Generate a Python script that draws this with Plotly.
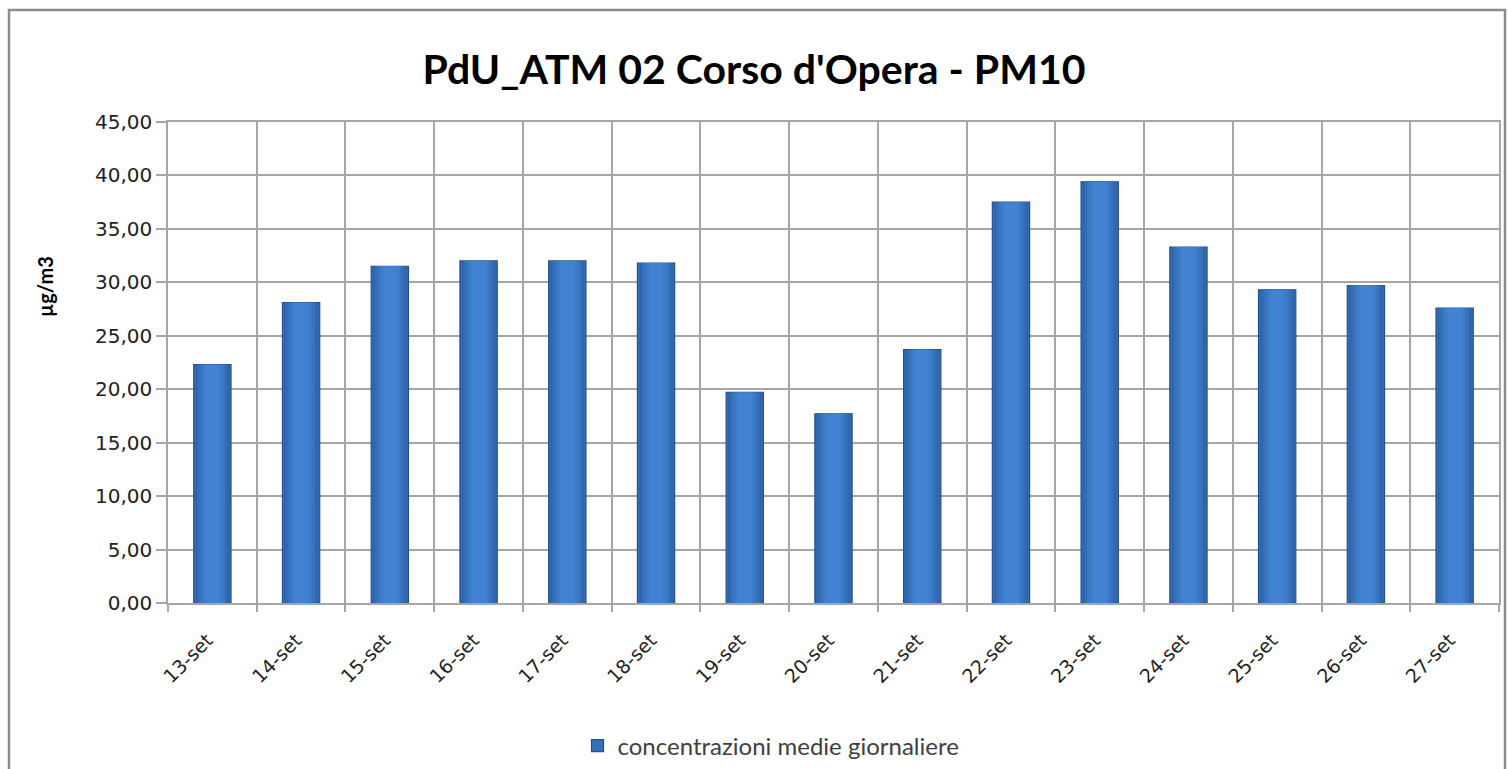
import plotly.graph_objects as go

# dati
giorni = ['13-set', '14-set', '15-set', '16-set', '17-set', '18-set', '19-set', '20-set',
          '21-set', '22-set', '23-set', '24-set', '25-set', '26-set', '27-set']
pm10 = [22.3, 28.1, 31.5, 32.0, 32.0, 31.8, 19.7, 17.7,
        23.7, 37.5, 39.4, 33.3, 29.3, 29.7, 27.6]
y_ticks = [0, 5, 10, 15, 20, 25, 30, 35, 40, 45]
y_labels = [('%.2f' % v).replace('.', ',') for v in y_ticks]

W, H = 1508, 769
ML, MR, MT, MB = 168, 9, 122, 166
pw, ph = W - ML - MR, H - MT - MB

# barre sovrapposte per imitare la sfumatura di Excel
strati = [(0.42, '#2a5a9c'), (0.38, '#3063a8'), (0.34, '#346db4'), (0.29, '#3875c0'),
          (0.23, '#3c7cc9'), (0.16, '#4183d2')]
traces = []
for i, (w, c) in enumerate(strati):
    traces.append(go.Bar(
        x=giorni, y=pm10, width=w,
        name='concentrazioni medie giornaliere', showlegend=(i == 0),
        marker=dict(color=c if i else '#3470ba',
                    line=dict(color='#24508c', width=0 if i else 1.2)),
        hoverinfo='skip' if i else None,
    ))

fig = go.Figure(data=traces)

grid = '#a6a6a6'
fig.update_layout(
    width=W, height=H,
    margin=dict(l=ML, r=MR, t=MT, b=MB, autoexpand=False),
    paper_bgcolor='white', plot_bgcolor='white',
    barmode='overlay',
    title=dict(text="<b>PdU_ATM 02 Corso d'Opera - PM10</b>",
               x=0.5, xanchor='center', y=1 - 70 / H, yanchor='middle',
               font=dict(family='Lato', size=41, color='black')),
    showlegend=True,
    legend=dict(orientation='h', x=(771 - ML) / pw, xanchor='center',
                y=-(746 - (H - MB)) / ph, yanchor='middle',
                font=dict(family='Lato', size=24, color='#404040'),
                itemwidth=30),
)
fig.update_xaxes(
    type='category', tickson='boundaries', tickangle=-45,
    showgrid=True, gridcolor=grid, gridwidth=1.5,
    showline=True, linecolor=grid, linewidth=1.5,
    ticks='outside', ticklen=7, tickcolor=grid, tickwidth=1.5,
    ticklabelstandoff=17, ticklabelshift=-5,
    tickfont=dict(family='DejaVu Sans', size=19, color='#222'),
    mirror=True,
)
fig.update_yaxes(
    range=[0, 45], tickvals=y_ticks, ticktext=y_labels,
    showgrid=True, gridcolor=grid, gridwidth=1.5,
    showline=True, linecolor=grid, linewidth=1.5,
    ticks='outside', ticklen=10, tickcolor=grid, tickwidth=1.5,
    tickfont=dict(family='DejaVu Sans', size=20, color='#222'),
    zeroline=False, mirror=True,
)

# titolo asse y, più in alto del centro come nell'originale
fig.add_annotation(text='<b>µg/m3</b>', textangle=-90, showarrow=False,
                   xref='paper', yref='paper',
                   x=(45 - ML) / pw, y=1 - (287 - MT) / ph,
                   xanchor='center', yanchor='middle',
                   font=dict(family='Lato', size=20, color='black'))

# cornice esterna del grafico
fig.add_shape(type='rect', xref='paper', yref='paper',
              x0=(9 - ML) / pw, x1=(1505 - ML) / pw,
              y0=-(H + 5 - MT - ph) / ph, y1=1 + (MT - 10) / ph,
              line=dict(color='#8c8c8c', width=2.5), layer='below')

# niente margine del body, così la figura coincide con la finestra
fig.write_html('out.html', config={'displayModeBar': False},
               post_script="document.body.style.margin='0';")
